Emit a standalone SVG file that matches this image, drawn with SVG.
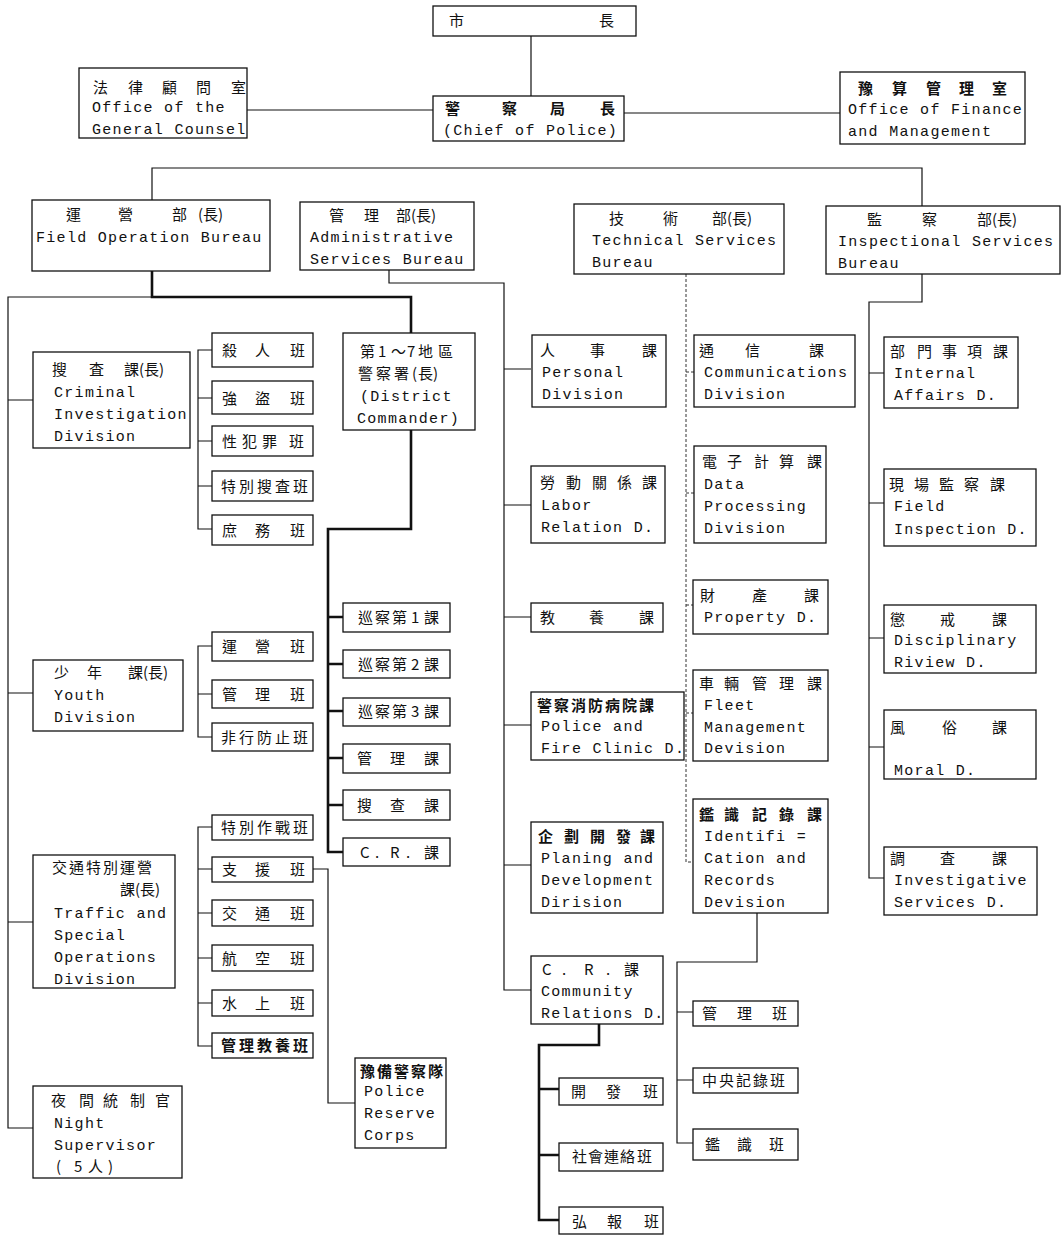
<svg xmlns="http://www.w3.org/2000/svg" width="1064" height="1235" viewBox="0 0 1064 1235">
<style>
.b{fill:#fff;stroke:#111;stroke-width:1.3}
.t{font-family:"Liberation Mono","DejaVu Sans Mono",monospace;font-size:15px;letter-spacing:1.3px;fill:#111}
.c{font-family:"Noto Sans CJK TC","Noto Sans CJK JP",sans-serif;font-size:15px;fill:#111}
.k{font-weight:bold}
.l{fill:none;stroke:#111;stroke-width:1.2}
.h{fill:none;stroke:#111;stroke-width:2.6}
.d{fill:none;stroke:#333;stroke-width:1;stroke-dasharray:3 2}
</style>
<rect width="1064" height="1235" fill="#fff"/>
<g id="connectors">
<path class="l" d="M531 36V96M247 110H433M624 113H840"/>
<path class="l" d="M152 200V168H922V206"/>
<path class="l" d="M152 297H8V1128H33M8 400H33M8 693H33M8 922H33"/>
<path class="l" d="M212 350H198V529H212M198 398H212M198 441H212M198 486H212"/>
<path class="l" d="M212 646H198V737H212M198 694H212"/>
<path class="l" d="M212 827H198V1046H212M198 869H212M198 913H212M198 958H212M198 1003H212"/>
<path class="l" d="M313 869H328V1103H355"/>
<path class="h" d="M152 271V297H411V333"/>
<path class="h" d="M411 430V529H328V852H343M328 617H343M328 664H343M328 711H343M328 758H343M328 805H343"/>
<path class="l" d="M389 270V283H504V990H531M504 369H531M504 505H531M504 617H531M504 725H531M504 865H531"/>
<path class="h" d="M599 1024V1045H539V1220H559M539 1089H559M539 1155H559"/>
<path class="d" d="M686 274V862H694M686 372H694M686 493H694M686 605H694M686 713H694"/>
<path class="l" d="M757 913V962H677V1143H693M677 1012H693M677 1080H693"/>
<path class="l" d="M922 274V302H869V878H884M869 373H884M869 503H884M869 638H884M869 747H884"/>
</g>
<g id="mayor"><rect class="b" x="433" y="6" width="203" height="30"/><text class="c" y="26"><tspan x="449">市</tspan><tspan x="599">長</tspan></text></g>
<g id="chief"><rect class="b" x="433" y="96" width="191" height="45"/><text class="c k" y="114" x="445 502 550 600">警察局長</text><text class="t" x="443" y="135">(Chief of Police)</text></g>
<g id="counsel"><rect class="b" x="79" y="68" width="168" height="70"/><text class="c" y="93" x="93 128 162 196 231">法律顧問室</text><text class="t" x="92" y="112">Office of the</text><text class="t" x="92" y="134">General Counsel</text></g>
<g id="finance"><rect class="b" x="840" y="72" width="185" height="72"/><text class="c k" y="94" x="858 892 926 959 992">豫算管理室</text><text class="t" x="848" y="114">Office of Finance</text><text class="t" x="848" y="136">and Management</text></g>
<g id="field-op"><rect class="b" x="32" y="200" width="238" height="71"/><text class="c" y="220"><tspan x="66">運</tspan><tspan x="118">營</tspan><tspan x="172">部</tspan><tspan x="198">(長)</tspan></text><text class="t" x="36" y="242">Field Operation Bureau</text></g>
<g id="admin"><rect class="b" x="300" y="202" width="174" height="68"/><text class="c" y="221"><tspan x="329">管</tspan><tspan x="364">理</tspan><tspan x="396">部(長)</tspan></text><text class="t" x="310" y="242">Administrative</text><text class="t" x="310" y="264">Services Bureau</text></g>
<g id="technical"><rect class="b" x="574" y="204" width="210" height="70"/><text class="c" y="224"><tspan x="609">技</tspan><tspan x="663">術</tspan><tspan x="712">部(長)</tspan></text><text class="t" x="592" y="245">Technical Services</text><text class="t" x="592" y="267">Bureau</text></g>
<g id="inspectional"><rect class="b" x="826" y="206" width="234" height="68"/><text class="c" y="225"><tspan x="867">監</tspan><tspan x="922">察</tspan><tspan x="977">部(長)</tspan></text><text class="t" x="838" y="246">Inspectional Services</text><text class="t" x="838" y="268">Bureau</text></g>
<g id="criminal"><rect class="b" x="33" y="352" width="157" height="96"/><text class="c" y="375"><tspan x="52">搜</tspan><tspan x="89">査</tspan><tspan x="124">課(長)</tspan></text><text class="t" x="54" y="397">Criminal</text><text class="t" x="54" y="419">Investigation</text><text class="t" x="54" y="441">Division</text></g>
<g id="ci-1"><rect class="b" x="212" y="333" width="101" height="34"/><text class="c" y="356" x="222 255 290">殺人班</text></g>
<g id="ci-2"><rect class="b" x="212" y="381" width="101" height="33"/><text class="c" y="404" x="222 255 290">強盜班</text></g>
<g id="ci-3"><rect class="b" x="212" y="426" width="101" height="30"/><text class="c" y="447" x="222 242 262 289">性犯罪班</text></g>
<g id="ci-4"><rect class="b" x="212" y="471" width="101" height="30"/><text class="c" y="492" x="221 239 257 275 293">特別搜査班</text></g>
<g id="ci-5"><rect class="b" x="212" y="515" width="101" height="30"/><text class="c" y="536" x="222 255 290">庶務班</text></g>
<g id="youth"><rect class="b" x="33" y="660" width="150" height="71"/><text class="c" y="678"><tspan x="54">少</tspan><tspan x="87">年</tspan><tspan x="128">課(長)</tspan></text><text class="t" x="54" y="700">Youth</text><text class="t" x="54" y="722">Division</text></g>
<g id="y-1"><rect class="b" x="212" y="632" width="101" height="29"/><text class="c" y="652" x="222 255 290">運營班</text></g>
<g id="y-2"><rect class="b" x="212" y="680" width="101" height="28"/><text class="c" y="700" x="222 255 290">管理班</text></g>
<g id="y-3"><rect class="b" x="212" y="723" width="101" height="28"/><text class="c" y="743" x="221 239 257 275 293">非行防止班</text></g>
<g id="traffic"><rect class="b" x="33" y="855" width="142" height="133"/><text class="c" y="873" x="52 69 86 103 120 137">交通特別運營</text><text class="c" y="895"><tspan x="120">課(長)</tspan></text><text class="t" x="54" y="918">Traffic and</text><text class="t" x="54" y="940">Special</text><text class="t" x="54" y="962">Operations</text><text class="t" x="54" y="984">Division</text></g>
<g id="t-1"><rect class="b" x="212" y="815" width="101" height="25"/><text class="c" y="833" x="221 239 257 275 293">特別作戰班</text></g>
<g id="t-2"><rect class="b" x="212" y="857" width="101" height="25"/><text class="c" y="875" x="222 255 290">支援班</text></g>
<g id="t-3"><rect class="b" x="212" y="900" width="101" height="26"/><text class="c" y="919" x="222 255 290">交通班</text></g>
<g id="t-4"><rect class="b" x="212" y="945" width="101" height="26"/><text class="c" y="964" x="222 255 290">航空班</text></g>
<g id="t-5"><rect class="b" x="212" y="990" width="101" height="26"/><text class="c" y="1009" x="222 255 290">水上班</text></g>
<g id="t-6"><rect class="b" x="212" y="1033" width="101" height="25"/><text class="c k" y="1051" x="221 239 257 275 293">管理教養班</text></g>
<g id="night"><rect class="b" x="33" y="1086" width="149" height="92"/><text class="c" y="1106" x="51 79 103 130 155">夜間統制官</text><text class="t" x="54" y="1128">Night</text><text class="t" x="54" y="1150">Supervisor</text><text class="c" y="1172" x="56 74 88 108">(5人)</text></g>
<g id="reserve"><rect class="b" x="355" y="1058" width="91" height="90"/><text class="c k" y="1077" x="360 377 394 411 428">豫備警察隊</text><text class="t" x="364" y="1096">Police</text><text class="t" x="364" y="1118">Reserve</text><text class="t" x="364" y="1140">Corps</text></g>
<g id="district"><rect class="b" x="343" y="333" width="132" height="97"/><text class="c" y="357" x="360 378 391 407 418 438">第1～7地區</text><text class="c" y="379" x="358 376 394 412 418 433">警察署(長)</text><text class="t" x="360" y="401">(District</text><text class="t" x="357" y="423">Commander)</text></g>
<g id="p-1"><rect class="b" x="343" y="603" width="107" height="29"/><text class="c" y="623" x="358 375 392 411 424">巡察第1課</text></g>
<g id="p-2"><rect class="b" x="343" y="650" width="107" height="28"/><text class="c" y="670" x="358 375 392 411 424">巡察第2課</text></g>
<g id="p-3"><rect class="b" x="343" y="698" width="107" height="28"/><text class="c" y="717" x="358 375 392 411 424">巡察第3課</text></g>
<g id="p-4"><rect class="b" x="343" y="744" width="107" height="29"/><text class="c" y="764" x="357 390 424">管理課</text></g>
<g id="p-5"><rect class="b" x="343" y="790" width="107" height="30"/><text class="c" y="811" x="357 390 424">搜查課</text></g>
<g id="p-6"><rect class="b" x="343" y="838" width="107" height="28"/><text class="c" y="858" x="360 375 390 406 424">C.R.課</text></g>
<g id="personal"><rect class="b" x="532" y="335" width="134" height="72"/><text class="c" y="356" x="540 590 642">人事課</text><text class="t" x="542" y="377">Personal</text><text class="t" x="542" y="399">Division</text></g>
<g id="labor"><rect class="b" x="531" y="466" width="134" height="77"/><text class="c" y="488" x="540 566 592 617 642">勞動關係課</text><text class="t" x="541" y="510">Labor</text><text class="t" x="541" y="532">Relation D.</text></g>
<g id="training"><rect class="b" x="531" y="603" width="132" height="29"/><text class="c" y="623" x="540 589 639">教養課</text></g>
<g id="clinic"><rect class="b" x="531" y="692" width="153" height="68"/><text class="c k" y="711" x="537 554 571 588 605 622 639">警察消防病院課</text><text class="t" x="541" y="731">Police and</text><text class="t" x="541" y="753">Fire Clinic D.</text></g>
<g id="planning"><rect class="b" x="531" y="822" width="132" height="91"/><text class="c k" y="842" x="538 564 590 616 640">企劃開發課</text><text class="t" x="541" y="863">Planing and</text><text class="t" x="541" y="885">Development</text><text class="t" x="541" y="907">Dirision</text></g>
<g id="community"><rect class="b" x="531" y="956" width="132" height="68"/><text class="c" y="975" x="542 562 584 606 624">C.R.課</text><text class="t" x="541" y="996">Community</text><text class="t" x="541" y="1018">Relations D.</text></g>
<g id="cr-1"><rect class="b" x="559" y="1078" width="104" height="27"/><text class="c" y="1097" x="571 606 643">開發班</text></g>
<g id="cr-2"><rect class="b" x="559" y="1143" width="104" height="28"/><text class="c" y="1162" x="572 588 604 620 637">社會連絡班</text></g>
<g id="cr-3"><rect class="b" x="559" y="1207" width="104" height="27"/><text class="c" y="1227" x="572 607 644">弘報班</text></g>
<g id="comm"><rect class="b" x="694" y="335" width="161" height="72"/><text class="c" y="356" x="699 745 809">通信課</text><text class="t" x="704" y="377">Communications</text><text class="t" x="704" y="399">Division</text></g>
<g id="data"><rect class="b" x="694" y="446" width="132" height="97"/><text class="c" y="467" x="702 727 754 779 807">電子計算課</text><text class="t" x="704" y="489">Data</text><text class="t" x="704" y="511">Processing</text><text class="t" x="704" y="533">Division</text></g>
<g id="property"><rect class="b" x="693" y="580" width="135" height="54"/><text class="c" y="601" x="700 752 804">財產課</text><text class="t" x="704" y="622">Property D.</text></g>
<g id="fleet"><rect class="b" x="693" y="670" width="135" height="91"/><text class="c" y="689" x="699 724 752 779 807">車輛管理課</text><text class="t" x="704" y="710">Fleet</text><text class="t" x="704" y="732">Management</text><text class="t" x="704" y="753">Devision</text></g>
<g id="ident"><rect class="b" x="693" y="799" width="135" height="114"/><text class="c k" y="820" x="699 724 752 779 807">鑑識記錄課</text><text class="t" x="704" y="841">Identifi =</text><text class="t" x="704" y="863">Cation and</text><text class="t" x="704" y="885">Records</text><text class="t" x="704" y="907">Devision</text></g>
<g id="id-1"><rect class="b" x="693" y="1001" width="105" height="25"/><text class="c" y="1019" x="702 737 772">管理班</text></g>
<g id="id-2"><rect class="b" x="693" y="1068" width="105" height="25"/><text class="c" y="1086" x="702 719 736 753 770">中央記錄班</text></g>
<g id="id-3"><rect class="b" x="693" y="1129" width="105" height="31"/><text class="c" y="1150" x="705 737 769">鑑識班</text></g>
<g id="internal"><rect class="b" x="884" y="337" width="134" height="71"/><text class="c" y="357" x="890 917 942 967 993">部門事項課</text><text class="t" x="894" y="378">Internal</text><text class="t" x="894" y="400">Affairs D.</text></g>
<g id="field-insp"><rect class="b" x="884" y="469" width="152" height="77"/><text class="c" y="490" x="889 914 939 964 990">現場監察課</text><text class="t" x="894" y="511">Field</text><text class="t" x="894" y="534">Inspection D.</text></g>
<g id="discipline"><rect class="b" x="884" y="605" width="152" height="68"/><text class="c" y="625" x="890 940 992">懲戒課</text><text class="t" x="894" y="645">Disciplinary</text><text class="t" x="894" y="667">Riview D.</text></g>
<g id="moral"><rect class="b" x="884" y="710" width="152" height="69"/><text class="c" y="733" x="890 942 992">風俗課</text><text class="t" x="894" y="775">Moral D.</text></g>
<g id="investigative"><rect class="b" x="884" y="847" width="153" height="68"/><text class="c" y="864" x="890 940 992">調査課</text><text class="t" x="894" y="885">Investigative</text><text class="t" x="894" y="907">Services D.</text></g>
</svg>
